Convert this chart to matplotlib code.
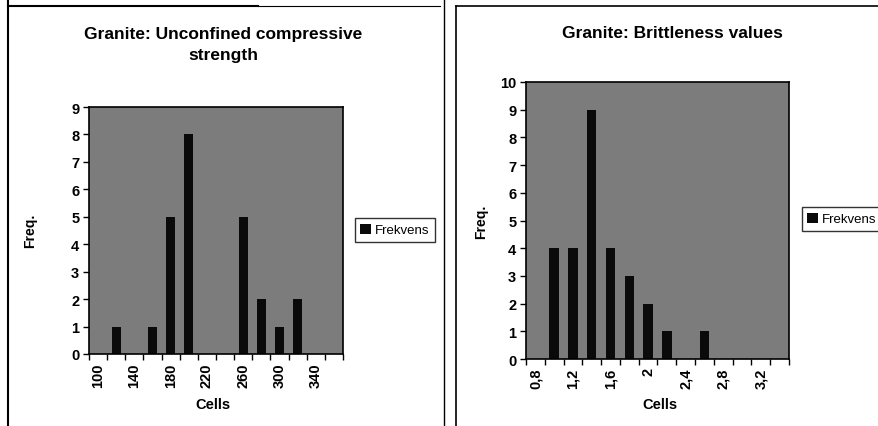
import matplotlib
matplotlib.use('Agg')
import matplotlib.pyplot as plt
from matplotlib.lines import Line2D

# ── data ──
ucs_cells = [100, 120, 140, 160, 180, 200, 220, 240, 260, 280, 300, 320, 340, 360]
ucs_freq = [0, 1, 0, 1, 5, 8, 0, 0, 5, 2, 1, 2, 0, 0]
ucs_labels = ['100', '140', '180', '220', '260', '300', '340']

brit_cells = [0.8, 1.0, 1.2, 1.4, 1.6, 1.8, 2.0, 2.2, 2.4, 2.6, 2.8, 3.0, 3.2, 3.4]
brit_freq = [0, 4, 4, 9, 4, 3, 2, 1, 0, 1, 0, 0, 0, 0]
brit_labels = ['0,8', '1,2', '1,6', '2', '2,4', '2,8', '3,2']

W, H = 879, 427
FONT = 'Liberation Sans'
plt.rcParams['font.family'] = [FONT, 'DejaVu Sans']

fig = plt.figure(figsize=(W / 100, H / 100), dpi=100)
fig.patch.set_facecolor('white')


def px(x0, y0, x1, y1):
    return [x0 / W, 1 - y1 / H, (x1 - x0) / W, (y1 - y0) / H]


def draw_panel(rect, cells, freq, labels, ymax, title, title_xy, ylab_xy,
               xlab_xy, leg_xy):
    ax = fig.add_axes(px(*rect))
    ax.set_facecolor('#7c7c7c')
    n = len(cells)
    pos = list(range(n))
    ax.bar(pos, freq, width=0.5, color='#0a0a0a', label='Frekvens', zorder=2)
    ax.set_xlim(-0.5, n - 0.5)
    ax.set_ylim(0, ymax)
    ax.set_yticks(range(0, ymax + 1))
    ax.set_yticklabels([str(v) for v in range(0, ymax + 1)],
                       fontsize=10.5, fontweight='bold')
    ax.set_xticks(pos[::2])
    ax.set_xticklabels(labels, rotation=90, fontsize=10.5, fontweight='bold')
    ax.set_xticks([p - 0.5 for p in range(n + 1)], minor=True)
    ax.tick_params(axis='x', which='major', length=0, pad=6)
    ax.tick_params(axis='x', which='minor', length=4, width=1, direction='out')
    ax.tick_params(axis='y', length=4, width=1, direction='out', pad=3)
    for s in ax.spines.values():
        s.set_color('black')
        s.set_linewidth(1.2)

    fig.text(title_xy[0] / W, 1 - title_xy[1] / H, title, ha='center',
             va='center', fontsize=12.5, fontweight='bold', linespacing=1.45)
    fig.text(ylab_xy[0] / W, 1 - ylab_xy[1] / H, 'Freq.', rotation=90,
             ha='center', va='center', fontsize=10, fontweight='bold')
    fig.text(xlab_xy[0] / W, 1 - xlab_xy[1] / H, 'Cells', ha='center',
             va='center', fontsize=10.5, fontweight='bold')
    leg = ax.legend(loc='center left', bbox_to_anchor=(leg_xy[0] / W, 1 - leg_xy[1] / H),
                    bbox_transform=fig.transFigure, fontsize=9.5, frameon=True,
                    fancybox=False, handlelength=0.8, handleheight=0.8,
                    handletextpad=0.3, borderpad=0.4, borderaxespad=0)
    leg.get_frame().set_edgecolor('black')
    leg.get_frame().set_linewidth(1.0)
    return ax


draw_panel((89, 108, 343, 355), ucs_cells, ucs_freq, ucs_labels, 9,
           'Granite: Unconfined compressive\nstrength', (223, 45),
           (30, 231), (213, 405), (355, 231))
draw_panel((526, 83, 789, 360), brit_cells, brit_freq, brit_labels, 10,
           'Granite: Brittleness values', (672, 33),
           (481, 222), (660, 405), (802, 220))

# scanned page frame lines
for (x0, y0, x1, y1, lw) in [(8, 0, 8, 427, 1.5), (444, 0, 444, 427, 1.0),
                             (456, 7, 456, 427, 1.2), (8, 7, 258, 7, 1.5),
                             (258, 7, 440, 7, 0.8), (456, 7, 879, 7, 1.2)]:
    fig.add_artist(Line2D([x0 / W, x1 / W], [1 - y0 / H, 1 - y1 / H],
                          transform=fig.transFigure, color='black', linewidth=lw))

fig.savefig('out.png', dpi=100)
